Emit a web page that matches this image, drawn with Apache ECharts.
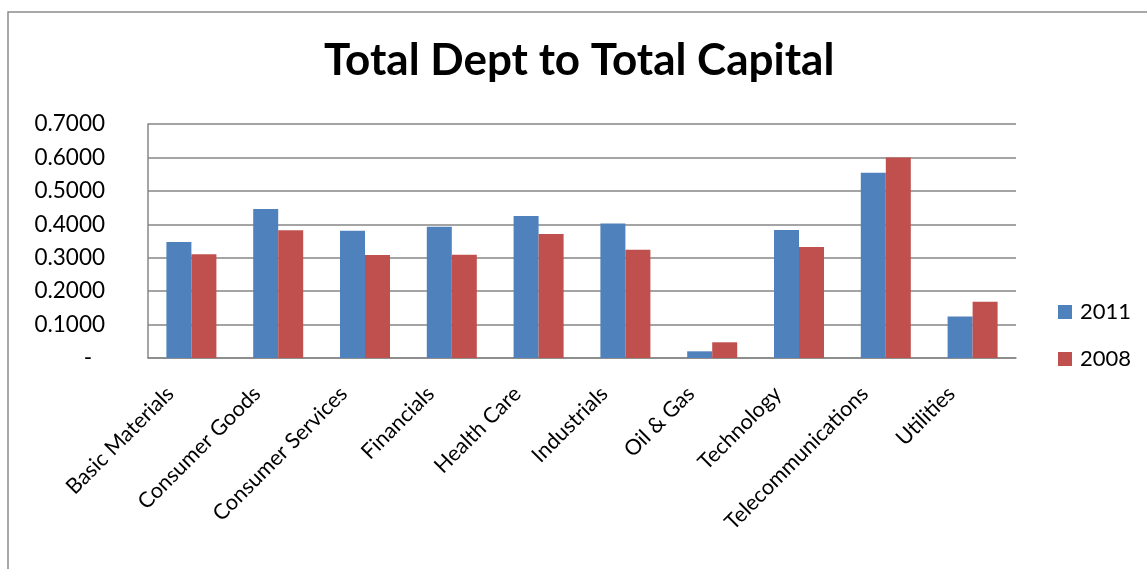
<!DOCTYPE html>
<html>
<head>
<meta charset="utf-8">
<script src="https://cdn.jsdelivr.net/npm/echarts@6/dist/echarts.min.js"></script>
<style>
  html, body { margin: 0; padding: 0; background: #fff; }
  #chart { width: 1147px; height: 569px; }
</style>
</head>
<body>
<div id="chart"></div>
<script>
// Sectors on the category axis
const sectors = ['Basic Materials', 'Consumer Goods', 'Consumer Services', 'Financials', 'Health Care',
  'Industrials', 'Oil & Gas', 'Technology', 'Telecommunications', 'Utilities'];

// Total debt to total capital ratios per sector
const values2011 = [0.347, 0.446, 0.381, 0.393, 0.425, 0.402, 0.020, 0.383, 0.554, 0.124];
const values2008 = [0.310, 0.382, 0.308, 0.309, 0.371, 0.324, 0.047, 0.332, 0.600, 0.168];

const seriesNames = ['2011', '2008'];

const FONT = 'Lato';
const chart = echarts.init(document.getElementById('chart'));

chart.setOption({
  animation: false,
  backgroundColor: '#ffffff',
  textStyle: { fontFamily: FONT },
  title: {
    text: 'Total Dept to Total Capital',
    left: 324,
    top: 39,
    padding: 0,
    textStyle: { fontFamily: FONT, fontSize: 44, fontWeight: 'bold', color: '#000' }
  },
  graphic: [{
    type: 'rect',
    shape: { x: 8, y: 12, width: 1160, height: 600 },
    style: { fill: 'none', stroke: '#8c8c8c', lineWidth: 1.5 },
    silent: true
  }],
  legend: {
    orient: 'vertical',
    left: 1058,
    top: 301,
    padding: 0,
    itemWidth: 14,
    itemHeight: 14,
    itemGap: 25,
    icon: 'rect',
    data: seriesNames,
    textStyle: { fontFamily: FONT, fontSize: 22, color: '#000', padding: [0, 0, 0, 3] }
  },
  grid: { left: 148, right: 131, top: 124, bottom: 211, containLabel: false },
  xAxis: {
    type: 'category',
    data: sectors,
    axisTick: { show: false },
    axisLine: { lineStyle: { color: '#868686', width: 1.5 } },
    axisLabel: {
      rotate: 45,
      interval: 0,
      margin: 11,
      padding: [0, 30, 0, 0],
      fontFamily: FONT,
      fontSize: 21.5,
      color: '#000'
    }
  },
  yAxis: {
    type: 'value',
    min: 0,
    max: 0.7,
    interval: 0.1,
    axisLine: { show: true, lineStyle: { color: '#868686', width: 1.5 } },
    axisTick: { show: false },
    splitLine: { lineStyle: { color: '#868686', width: 1.5 } },
    axisLabel: {
      margin: 43,
      fontFamily: FONT,
      fontSize: 22.5,
      color: '#000',
      formatter: v => (Math.abs(v) < 1e-9 ? '{dash|-}' : v.toFixed(4)),
      rich: {
        dash: { fontFamily: FONT, fontSize: 22.5, color: '#000', padding: [0, 13, 0, 0] }
      }
    }
  },
  series: [
    {
      name: seriesNames[0],
      type: 'bar',
      data: values2011,
      barWidth: 25,
      barGap: '0%',
      itemStyle: { color: '#4f81bd' }
    },
    {
      name: seriesNames[1],
      type: 'bar',
      data: values2008,
      barWidth: 25,
      barGap: '0%',
      itemStyle: { color: '#c0504d' }
    }
  ]
});
</script>
</body>
</html>
